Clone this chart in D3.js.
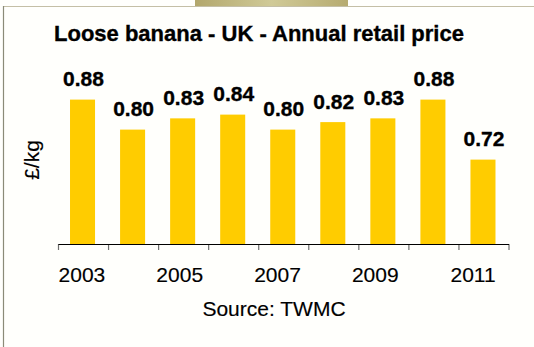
<!DOCTYPE html>
<html>
<head>
<meta charset="utf-8">
<script src="https://cdn.jsdelivr.net/npm/d3@7"></script>
<style>
  html, body { margin: 0; padding: 0; background: #fffffc; }
  svg { display: block; }
  text { font-family: "Liberation Sans", Arial, sans-serif; fill: #000; }
  text.bold { font-weight: bold; stroke: #000; stroke-width: 0.35px; }
  text.reg { stroke: #000; stroke-width: 0.15px; }
</style>
</head>
<body>
<svg id="chart" width="534" height="347"></svg>
<script>
// Annual retail price of loose bananas in the UK (£/kg)
const years = ["2003", "2004", "2005", "2006", "2007", "2008", "2009", "2010", "2011"];
const prices = [0.88, 0.80, 0.83, 0.84, 0.80, 0.82, 0.83, 0.88, 0.72];
const tickLabels = ["2003", "2005", "2007", "2009", "2011"];
const valueLabels = ["0.88", "0.80", "0.83", "0.84", "0.80", "0.82", "0.83", "0.88", "0.72"];

const svg = d3.select("#chart");
const W = 534, H = 347;

// Slide frame: left rule, top rule and the header tab
const defs = svg.append("defs");
const grad = defs.append("linearGradient").attr("id", "tabGrad")
  .attr("x1", "0%").attr("x2", "100%").attr("y1", "0%").attr("y2", "0%");
grad.append("stop").attr("offset", "0%").attr("stop-color", "#b2a76c");
grad.append("stop").attr("offset", "50%").attr("stop-color", "#d0ca97");
grad.append("stop").attr("offset", "100%").attr("stop-color", "#b6ab70");

svg.append("rect").attr("x", 195).attr("y", 0).attr("width", 153).attr("height", 6)
  .attr("fill", "url(#tabGrad)");
svg.append("line").attr("x1", 3).attr("x2", W).attr("y1", 6.5).attr("y2", 6.5)
  .attr("stroke", "#c4bfa6").attr("stroke-width", 1);
svg.append("line").attr("x1", 3.5).attr("x2", 3.5).attr("y1", 6).attr("y2", H)
  .attr("stroke", "#8b8b78").attr("stroke-width", 1.2);

// Scales
const x = d3.scaleBand().domain(years).range([58.5, 509])
  .paddingInner(0.5).paddingOuter(0.25);
const y = d3.scaleLinear().domain([0.495, 1.0]).range([244, 54.6]);
// category label positions along the axis
const xLabel = d3.scaleBand().domain(years).range([57.5, 497.5]);

// Title
svg.append("text").attr("class", "bold")
  .attr("x", 259).attr("y", 41)
  .attr("text-anchor", "middle")
  .style("font-size", "22px")
  .text("Loose banana - UK - Annual retail price");

// Bars
svg.append("g").selectAll("rect")
  .data(years.map((d, i) => ({ year: d, value: prices[i] })))
  .join("rect")
  .attr("x", d => x(d.year) - 1)
  .attr("y", d => y(d.value))
  .attr("width", x.bandwidth())
  .attr("height", d => y.range()[0] - y(d.value))
  .attr("fill", "#ffcc00");

// Value labels
svg.append("g").selectAll("text")
  .data(years.map((d, i) => ({ year: d, value: prices[i], label: valueLabels[i] })))
  .join("text").attr("class", "bold")
  .attr("x", d => x(d.year) + x.bandwidth() / 2)
  .attr("y", d => y(d.value) - 13.5)
  .attr("text-anchor", "middle")
  .style("font-size", "21px")
  .text(d => d.label);

// Category axis: baseline and tick marks between categories
const step = x.step();
const boundaries = years.map(d => x(d) - step * x.paddingInner() / 2)
  .concat([x(years[years.length - 1]) + x.bandwidth() + step * x.paddingInner() / 2]);
const axisG = svg.append("g");
axisG.selectAll("line.tick")
  .data(boundaries)
  .join("line").attr("class", "tick")
  .attr("x1", d => d).attr("x2", d => d)
  .attr("y1", 244).attr("y2", 250)
  .attr("stroke", "#6e6e6e").attr("stroke-width", 1.2);
axisG.append("line")
  .attr("x1", boundaries[0]).attr("x2", boundaries[boundaries.length - 1])
  .attr("y1", 244.5).attr("y2", 244.5)
  .attr("stroke", "#000").attr("stroke-width", 1.2);

axisG.selectAll("text")
  .data(tickLabels)
  .join("text").attr("class", "reg")
  .attr("x", d => xLabel(d) + xLabel.bandwidth() / 2)
  .attr("y", 281.5)
  .attr("text-anchor", "middle")
  .style("font-size", "21px")
  .text(d => d);

// Source note
svg.append("text").attr("class", "reg")
  .attr("x", 274).attr("y", 316)
  .attr("text-anchor", "middle")
  .style("font-size", "21px")
  .text("Source: TWMC");

// Y axis title
svg.append("text").attr("class", "reg")
  .attr("transform", "translate(38.5,160) rotate(-90)")
  .attr("text-anchor", "middle")
  .style("font-size", "21px")
  .text("£/kg");
</script>
</body>
</html>
